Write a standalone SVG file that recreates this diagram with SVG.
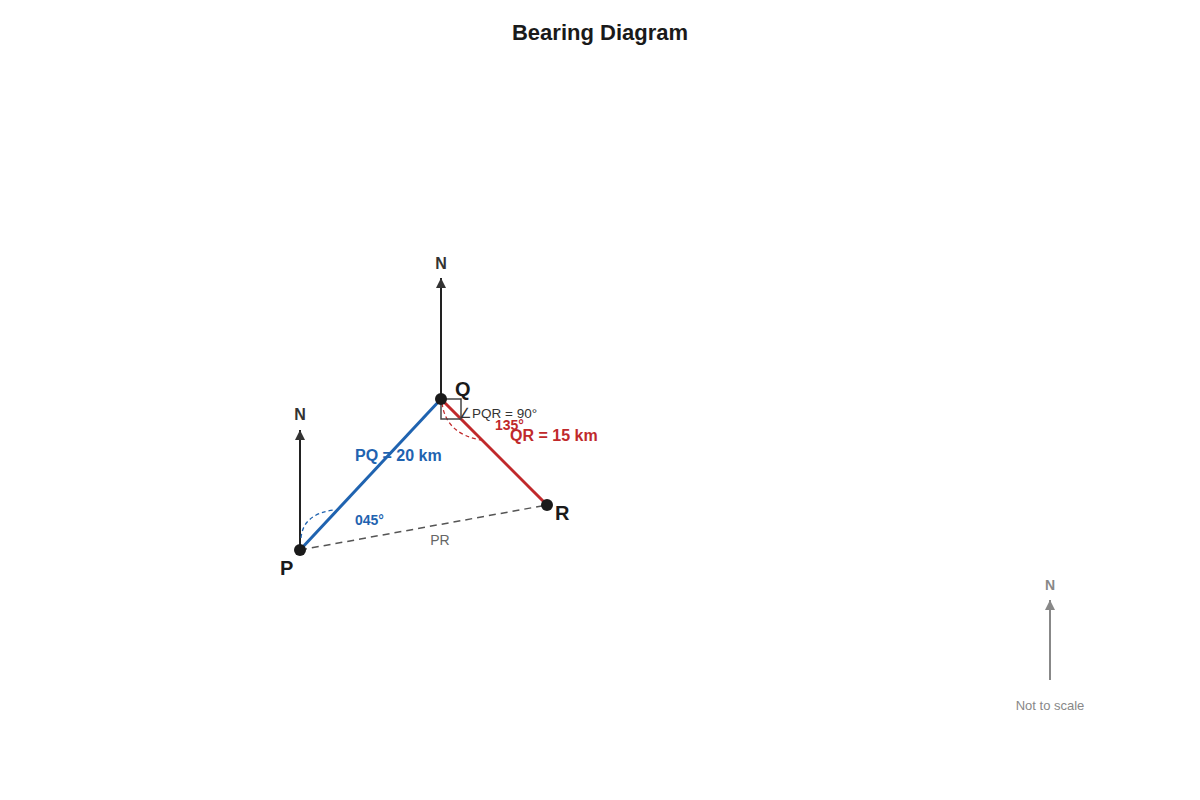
<svg xmlns="http://www.w3.org/2000/svg" width="1200" height="800" viewBox="0 0 1200 800">
<style>
text{font-family:"Liberation Sans",Arial,sans-serif}
.title{font-size:22px;font-weight:bold;fill:#1a1a1a}
.nl{font-size:16px;font-weight:bold;fill:#333}
.pt{font-size:20px;font-weight:bold;fill:#1a1a1a}
.blue{fill:#1f63b0;font-weight:bold}
.red{fill:#c0292b;font-weight:bold}
.north{stroke:#222;stroke-width:2;fill:none}
.dot{fill:#1a1a1a}
</style>
<defs>
<marker id="ah" viewBox="0 0 10 10" refX="10" refY="5" markerWidth="13" markerHeight="10" markerUnits="userSpaceOnUse" orient="auto">
<path d="M0,0 L10,5 L0,10 Z" fill="#333"/>
</marker>
<marker id="ahg" viewBox="0 0 10 10" refX="10" refY="5" markerWidth="15" markerHeight="10" markerUnits="userSpaceOnUse" orient="auto">
<path d="M0,0 L10,5 L0,10 Z" fill="#888"/>
</marker>
</defs>
<rect width="1200" height="800" fill="#fff"/>
<text class="title" x="600" y="40" text-anchor="middle">Bearing Diagram</text>

<g id="connectors">
<line x1="300" y1="550" x2="547" y2="505" stroke="#555" stroke-width="1.5" stroke-dasharray="7,5"/>
<line x1="300" y1="550" x2="300" y2="430" class="north" marker-end="url(#ah)"/>
<line x1="441" y1="399" x2="441" y2="278" class="north" marker-end="url(#ah)"/>
<line x1="300" y1="550" x2="441" y2="399" stroke="#1f63b0" stroke-width="3"/>
<line x1="441" y1="399" x2="547" y2="505" stroke="#c0292b" stroke-width="3"/>
<path d="M301,538 Q303,514 334,510" fill="none" stroke="#1f63b0" stroke-width="1.3" stroke-dasharray="4,3"/>
<path d="M442,403 Q446,434 481,440" fill="none" stroke="#c0292b" stroke-width="1.3" stroke-dasharray="4,3"/>
<rect x="441" y="399" width="20" height="20" fill="none" stroke="#444" stroke-width="1.5"/>
</g>

<g id="node-P">
<circle class="dot" cx="300" cy="550" r="6"/>
<text class="pt" x="280" y="575">P</text>
<text class="nl" x="300" y="420" text-anchor="middle">N</text>
</g>
<g id="node-Q">
<circle class="dot" cx="441" cy="399" r="6"/>
<text class="pt" x="455" y="396">Q</text>
<text class="nl" x="441" y="269" text-anchor="middle">N</text>
</g>
<g id="node-R">
<circle class="dot" cx="547" cy="505" r="6"/>
<text class="pt" x="555" y="520">R</text>
</g>

<g id="labels">
<text class="blue" x="355" y="461" font-size="16">PQ = 20 km</text>
<text class="red" x="510" y="441" font-size="16">QR = 15 km</text>
<text class="red" x="495" y="430" font-size="14">135°</text>
<text x="459" y="418" font-size="13.5" fill="#333">∠PQR = 90°</text>
<text class="blue" x="355" y="525" font-size="14">045°</text>
<text x="440" y="545" font-size="14" fill="#666" text-anchor="middle">PR</text>
</g>

<g id="legend">
<text x="1050" y="590" font-size="14" font-weight="bold" fill="#888" text-anchor="middle">N</text>
<line x1="1050" y1="680" x2="1050" y2="600" stroke="#888" stroke-width="2" marker-end="url(#ahg)"/>
<text x="1050" y="710" font-size="13" fill="#888" text-anchor="middle">Not to scale</text>
</g>
</svg>
